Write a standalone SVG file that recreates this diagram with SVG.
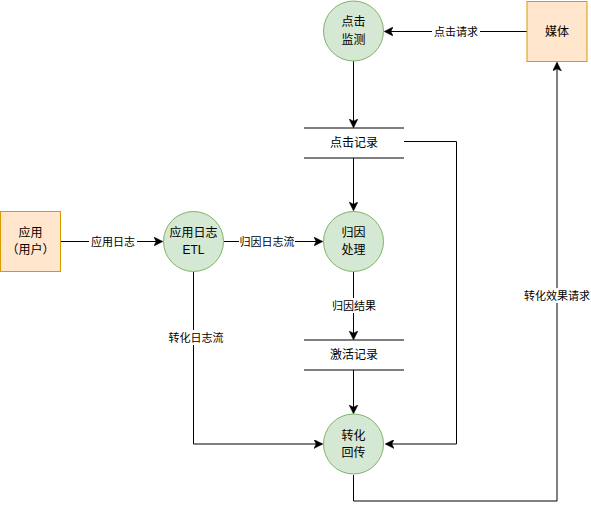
<svg xmlns="http://www.w3.org/2000/svg" width="591" height="510" viewBox="0 0 591 510">
<defs>
<style>
.proc{fill:#d5e8d4;stroke:#82b366;stroke-width:1}
.ext{fill:#ffe6cc;stroke:#d79b00;stroke-width:1}
.store{stroke:#000;stroke-width:1;fill:none}
.t{font-family:"Liberation Sans","Noto Sans CJK SC",sans-serif;font-size:12px;fill:#000;text-anchor:middle;dominant-baseline:central}
.lbl{font-family:"Liberation Sans","Noto Sans CJK SC",sans-serif;font-size:11px;fill:#000;text-anchor:middle;dominant-baseline:central}
.bg{fill:#fff}
.e{fill:none;stroke:#000;stroke-width:1}
.ea{fill:none;stroke:#000;stroke-width:1;marker-end:url(#arr)}
</style>
<marker id="arr" viewBox="0 0 10 10" refX="9" refY="5" markerWidth="9" markerHeight="9" markerUnits="userSpaceOnUse" orient="auto">
<path d="M0,0 L10,5 L0,10 L2.5,5 Z" fill="#000" stroke="#000" stroke-width="0.5"/>
</marker>
</defs>
<rect width="591" height="510" fill="#fff"/>
<g id="connectors">
<path class="ea" d="M527,31.5 L385,31.5"/>
<path class="ea" d="M353.5,61 L353.5,127"/>
<path class="ea" d="M353.5,158 L353.5,210"/>
<path class="ea" d="M61,241.5 L162,241.5"/>
<path class="ea" d="M224,241.5 L322,241.5"/>
<path class="ea" d="M353.5,272 L353.5,339"/>
<path class="ea" d="M353.5,370 L353.5,413"/>
<path class="ea" d="M193.5,272 L193.5,444 L322,444"/>
<path class="ea" d="M404,141.5 L456.5,141.5 L456.5,444 L386,444"/>
<path class="ea" d="M353.5,475 L353.5,501 L557,501 L557,63"/>
<rect class="bg" x="432" y="24" width="48" height="15"/>
<text class="lbl" x="456" y="31.5">点击请求</text>
<rect class="bg" x="89" y="234" width="48" height="15"/>
<text class="lbl" x="113" y="241.5">应用日志</text>
<rect class="bg" x="239" y="234" width="56" height="15"/>
<text class="lbl" x="267" y="241.5">归因日志流</text>
<rect class="bg" x="330" y="298" width="48" height="15"/>
<text class="lbl" x="354" y="305.5">归因结果</text>
<rect class="bg" x="168" y="330" width="56" height="15"/>
<text class="lbl" x="196" y="337.5">转化日志流</text>
<rect class="bg" x="524" y="288" width="66" height="15"/>
<text class="lbl" x="557" y="295.5">转化效果请求</text>
</g>
<g id="click-monitor">
<ellipse class="proc" cx="353.5" cy="31" rx="30" ry="30"/>
<text class="t" x="353.5" y="22">点击</text>
<text class="t" x="353.5" y="40">监测</text>
</g>
<g id="media">
<rect class="ext" x="527" y="1.5" width="60" height="60"/>
<text class="t" x="557" y="31.5">媒体</text>
</g>
<g id="click-record">
<path class="store" d="M304,128 L404,128 M304,158 L404,158"/>
<text class="t" x="354" y="143">点击记录</text>
</g>
<g id="app-user">
<rect class="ext" x="0.5" y="211.5" width="60" height="60"/>
<text class="t" x="30.5" y="233">应用</text>
<text class="t" x="30.5" y="250">（用户）</text>
</g>
<g id="app-log-etl">
<ellipse class="proc" cx="193.5" cy="241.5" rx="30" ry="30"/>
<text class="t" x="193.5" y="233">应用日志</text>
<text class="t" x="193.5" y="250">ETL</text>
</g>
<g id="attribution">
<ellipse class="proc" cx="353.5" cy="241.5" rx="30" ry="30"/>
<text class="t" x="353.5" y="233">归因</text>
<text class="t" x="353.5" y="250">处理</text>
</g>
<g id="activation-record">
<path class="store" d="M304,340 L404,340 M304,370 L404,370"/>
<text class="t" x="354" y="355">激活记录</text>
</g>
<g id="conversion-callback">
<ellipse class="proc" cx="353.5" cy="444" rx="30" ry="30"/>
<text class="t" x="353.5" y="436">转化</text>
<text class="t" x="353.5" y="453">回传</text>
</g>
</svg>
